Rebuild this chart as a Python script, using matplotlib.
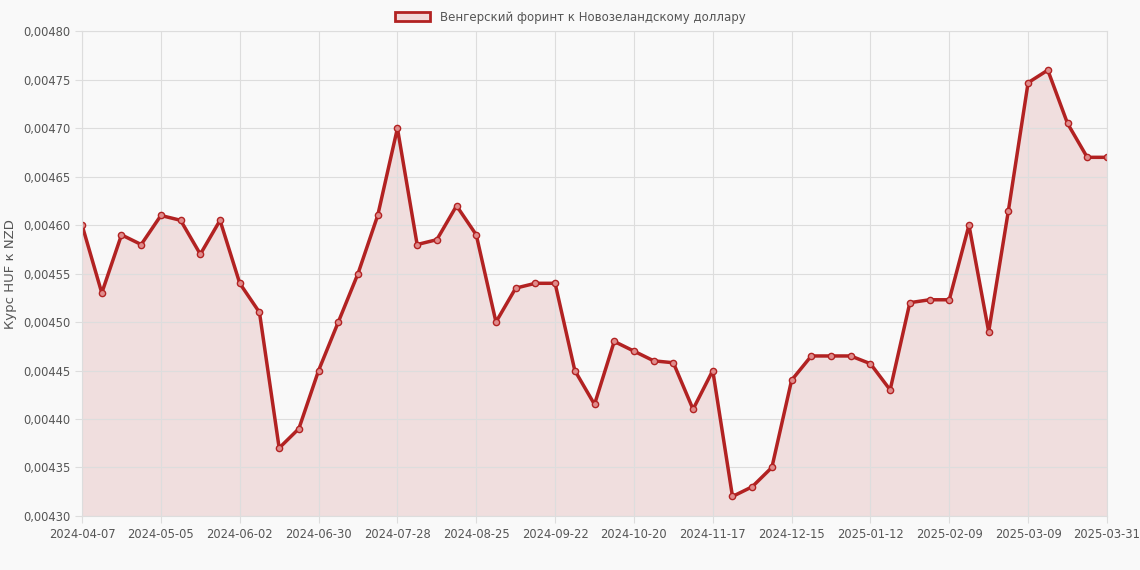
import matplotlib
matplotlib.use("Agg")
import matplotlib.pyplot as plt
from matplotlib.ticker import FuncFormatter
import matplotlib.patches as mp

values = [0.00460,0.00453,0.00459,0.00458,0.00461,0.004605,0.00457,0.004605,0.00454,0.00451,
          0.00437,0.00439,0.00445,0.00450,0.00455,0.00461,0.00470,0.00458,0.004585,0.00462,
          0.00459,0.00450,0.004535,0.00454,0.00454,0.00445,0.004415,0.00448,0.00447,0.00446,
          0.004458,0.00441,0.00445,0.00432,0.00433,0.00435,0.00444,0.004465,0.004465,0.004465,
          0.004457,0.00443,0.00452,0.004523,0.004523,0.00460,0.00449,0.004615,0.004747,0.00476,
          0.004705,0.00467,0.00467]
tick_idx = [0,4,8,12,16,20,24,28,32,36,40,44,48,52]
tick_labels = ["2024-04-07","2024-05-05","2024-06-02","2024-06-30","2024-07-28","2024-08-25",
               "2024-09-22","2024-10-20","2024-11-17","2024-12-15","2025-01-12","2025-02-09",
               "2025-03-09","2025-03-31"]
series = "Венгерский форинт к Новозеландскому доллару"

x = list(range(len(values)))
fig = plt.figure(figsize=(11.4,5.7), dpi=100, facecolor="#f9f9f9")
ax = fig.add_axes([0.072,0.095,0.899,0.85], facecolor="#f9f9f9")
col = "#b22222"
ax.fill_between(x, values, 0.0043, color=col, alpha=0.12, linewidth=0)
ax.plot(x, values, color=col, lw=2.5, marker="o", ms=4.5, mfc=(0.88,0.55,0.55), mec=col, mew=1.0,
        label=series)
ax.set_xlim(0, len(values)-1)
ax.set_ylim(0.0043, 0.0048)
ax.set_yticks([0.0043+i*0.00005 for i in range(11)])
ax.yaxis.set_major_formatter(FuncFormatter(lambda v,p: f"{v:.5f}".replace(".",",")))
ax.set_xticks(tick_idx)
ax.set_xticklabels(tick_labels)
ax.tick_params(labelsize=8.3, colors="#555555", length=5, color="#dddddd")
ax.set_ylabel("Курс HUF к NZD", color="#555555", fontsize=9.5)
ax.grid(color="#dddddd", lw=0.8)
for s in ax.spines.values():
    s.set_color("#dddddd")
h = mp.Patch(facecolor=(0.95,0.85,0.85), edgecolor=col, lw=2, label=series)
fig.legend(handles=[h], loc="upper center", bbox_to_anchor=(0.5,1.0), frameon=False,
           fontsize=8.5, labelcolor="#555555", handlelength=3)
fig.savefig("out.png", facecolor=fig.get_facecolor())
